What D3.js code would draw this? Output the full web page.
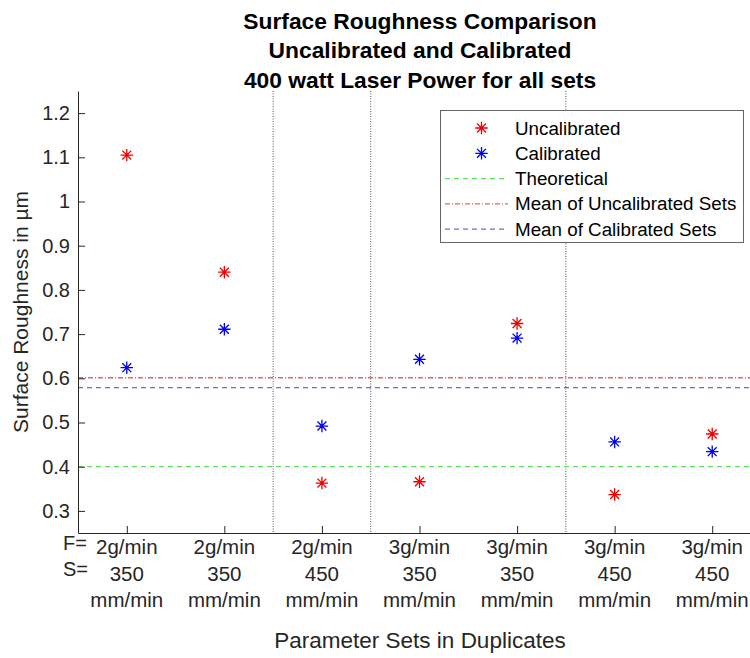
<!DOCTYPE html>
<html>
<head>
<meta charset="utf-8">
<script src="https://cdn.jsdelivr.net/npm/d3@7"></script>
<style>
  body { margin: 0; background: #fff; }
  svg { display: block; font-family: "Liberation Sans", Arial, sans-serif; }
</style>
</head>
<body>
<svg id="chart"></svg>
<script>
// values
var setIds = [1, 2, 3, 4, 5, 6, 7];
var feedLabels = ["2g/min", "2g/min", "2g/min", "3g/min", "3g/min", "3g/min", "3g/min"];
var speedLabels = ["350", "350", "450", "350", "350", "450", "450"];
var uncalibrated = [1.105, 0.840, 0.363, 0.366, 0.724, 0.337, 0.474];
var calibrated = [0.624, 0.711, 0.492, 0.643, 0.691, 0.456, 0.434];
var theoretical = 0.4;
var dividers = [2.5, 3.5, 5.5];
var yTicks = [0.3, 0.4, 0.5, 0.6, 0.7, 0.8, 0.9, 1.0, 1.1, 1.2];
var titleLines = ["Surface Roughness Comparison", "Uncalibrated and Calibrated", "400 watt Laser Power for all sets"];

var meanUncal = d3.mean(uncalibrated),
    meanCal = d3.mean(calibrated);

var width = 750, height = 658;
var margin = {top: 91, left: 78, bottom: 125};
var plotRight = 761;

var svg = d3.select("#chart")
  .attr("width", width)
  .attr("height", height)
  .style("overflow", "hidden");

var x = d3.scaleLinear().domain([0.5, 7.5]).range([margin.left, plotRight]);
var y = d3.scaleLinear().domain([0.25, 1.25]).range([height - margin.bottom, margin.top]);

var textColor = "#262626";

// title
svg.append("g")
  .selectAll("text")
  .data(titleLines)
  .enter()
  .append("text")
  .attr("x", 420)
  .attr("y", function(d, i) { return 28.5 + i * 29.5; })
  .attr("text-anchor", "middle")
  .style("font-size", "22.8px")
  .style("font-weight", "bold")
  .style("fill", "#000")
  .text(function(d) { return d; });

// vertical dividers between groups
svg.append("g")
  .selectAll("line")
  .data(dividers)
  .enter()
  .append("line")
  .attr("x1", function(d) { return x(d); })
  .attr("x2", function(d) { return x(d); })
  .attr("y1", y(1.25))
  .attr("y2", y(0.25))
  .style("stroke", "#555")
  .style("stroke-width", 1)
  .style("stroke-dasharray", "1,1.5");

// reference lines
var refLines = [
  {v: theoretical, color: "#5ee05e", dash: "5,4"},
  {v: meanUncal, color: "#e46666", dash: "5,2,1,2"},
  {v: meanCal, color: "#6a6ae0", dash: "5,4"}
];
svg.append("g")
  .selectAll("line")
  .data(refLines)
  .enter()
  .append("line")
  .attr("x1", x(0.5))
  .attr("x2", x(7.5))
  .attr("y1", function(d) { return y(d.v); })
  .attr("y2", function(d) { return y(d.v); })
  .style("stroke", function(d) { return d.color; })
  .style("stroke-width", 1.3)
  .style("stroke-dasharray", function(d) { return d.dash; });

// axes
var yAxis = svg.append("g")
  .attr("transform", "translate(" + margin.left + ",0)")
  .call(d3.axisLeft(y)
    .tickValues(yTicks)
    .tickSizeInner(-7)
    .tickSizeOuter(0)
    .tickPadding(8)
    .tickFormat(function(d) { return String(+d.toFixed(1)); }));

var xAxis = svg.append("g")
  .attr("transform", "translate(0," + y(0.25) + ")")
  .call(d3.axisBottom(x)
    .tickValues(setIds)
    .tickSizeInner(-7)
    .tickSizeOuter(0)
    .tickFormat(""));

[yAxis, xAxis].forEach(function(a) {
  a.select(".domain").style("stroke", textColor);
  a.selectAll(".tick line").style("stroke", textColor);
  a.selectAll("text").style("font-size", "20px").style("fill", textColor)
    .style("font-family", "'Liberation Sans', Arial, sans-serif");
});

// three-line x tick labels
var xl = svg.append("g").selectAll("text")
  .data(setIds)
  .enter()
  .append("text")
  .attr("text-anchor", "middle")
  .style("font-size", "20.5px")
  .style("fill", textColor);
xl.append("tspan").attr("x", function(d) { return x(d); }).attr("y", 554)
  .text(function(d, i) { return feedLabels[i]; });
xl.append("tspan").attr("x", function(d) { return x(d); }).attr("y", 580.5)
  .text(function(d, i) { return speedLabels[i]; });
xl.append("tspan").attr("x", function(d) { return x(d); }).attr("y", 606.5)
  .text("mm/min");

svg.append("text").attr("x", 63).attr("y", 550).style("font-size", "20px").style("fill", textColor).text("F=");
svg.append("text").attr("x", 63).attr("y", 576).style("font-size", "20px").style("fill", textColor).text("S=");

// axis titles
svg.append("text")
  .attr("x", 420)
  .attr("y", 648)
  .attr("text-anchor", "middle")
  .style("font-size", "22.5px")
  .style("fill", textColor)
  .text("Parameter Sets in Duplicates");

svg.append("text")
  .attr("transform", "translate(28," + ((y(0.25) + y(1.25)) / 2) + ") rotate(-90)")
  .attr("text-anchor", "middle")
  .style("font-size", "21px")
  .style("fill", textColor)
  .text("Surface Roughness in µm");

// asterisk marker
function star(g, cx, cy, color) {
  var r = 6.2, d = r * 0.72;
  g.append("path")
    .attr("d", "M" + (cx - r) + "," + cy + "H" + (cx + r) +
               "M" + cx + "," + (cy - r) + "V" + (cy + r) +
               "M" + (cx - d) + "," + (cy - d) + "L" + (cx + d) + "," + (cy + d) +
               "M" + (cx - d) + "," + (cy + d) + "L" + (cx + d) + "," + (cy - d))
    .style("stroke", color)
    .style("stroke-width", 1.3)
    .style("fill", "none");
}

var pts = svg.append("g");
setIds.forEach(function(s, i) {
  star(pts, x(s), y(uncalibrated[i]), "#f00000");
  star(pts, x(s), y(calibrated[i]), "#0000ee");
});

// legend
var legend = svg.append("g");
legend.append("rect")
  .attr("x", 440.5).attr("y", 110.5)
  .attr("width", 303).attr("height", 132)
  .style("fill", "#fff")
  .style("stroke", "#666")
  .style("stroke-width", 1);

var legendItems = [
  {label: "Uncalibrated", type: "star", color: "#f00000"},
  {label: "Calibrated", type: "star", color: "#0000ee"},
  {label: "Theoretical", type: "line", color: refLines[0].color, dash: refLines[0].dash},
  {label: "Mean of Uncalibrated Sets", type: "line", color: refLines[1].color, dash: refLines[1].dash},
  {label: "Mean of Calibrated Sets", type: "line", color: refLines[2].color, dash: refLines[2].dash}
];
legendItems.forEach(function(it, i) {
  var ly = 128 + i * 25.3;
  if (it.type === "star") {
    star(legend, 481.5, ly, it.color);
  } else {
    legend.append("line")
      .attr("x1", 445).attr("x2", 508)
      .attr("y1", ly).attr("y2", ly)
      .style("stroke", it.color)
      .style("stroke-width", 1.3)
      .style("stroke-dasharray", it.dash);
  }
  legend.append("text")
    .attr("x", 515)
    .attr("y", ly + 6.5)
    .style("font-size", "18.8px")
    .style("fill", "#000")
    .text(it.label);
});
</script>
</body>
</html>
